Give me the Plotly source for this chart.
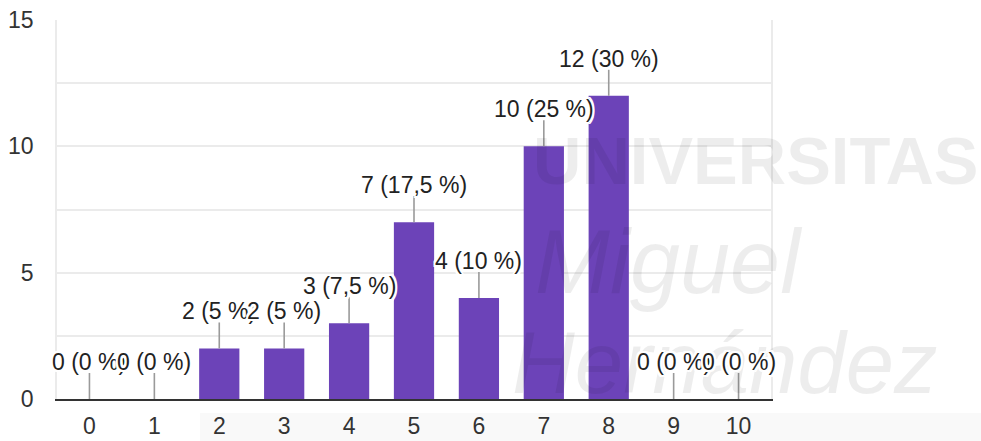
import plotly.graph_objects as go

# Responses per score (0-10)
categories = list(range(11))
counts = [0, 0, 2, 2, 3, 7, 4, 10, 12, 0, 0]
y_ticks = [0, 5, 10, 15]

total = sum(counts)


def fmt_pct(n):
    p = n / total * 100
    s = f"{p:.1f}".rstrip("0").rstrip(".")
    return s.replace(".", ",") + " %"


labels = [f"{c} ({fmt_pct(c)})" for c in counts]

BAR_COLOR = "#6c43b8"
TEXT_COLOR = "#222222"
FONT = "Liberation Sans, Arial, sans-serif"
HALO = ", ".join(
    f"{dx}px {dy}px 0 #ffffff"
    for dx, dy in [(2, 0), (-2, 0), (0, 2), (0, -2), (2, 2), (-2, -2), (2, -2), (-2, 2)]
)

fig = go.Figure()
fig.add_trace(
    go.Bar(
        x=categories,
        y=counts,
        marker=dict(color=BAR_COLOR, line=dict(width=0)),
        hoverinfo="skip",
    )
)

# faint university watermark behind the labels
watermark = [
    dict(text="<b>UNIVERSITAS</b>", px=531, py=160, size=67),
    dict(text="<i>Miguel</i>", px=533, py=262, size=90),
    dict(text="<i>Hernández</i>", px=510, py=362, size=87),
]
X0, X1, Y0, Y1 = 57, 771, 20, 399
annotations = []
for w in watermark:
    annotations.append(
        dict(
            text=w["text"],
            xref="paper",
            yref="paper",
            x=(w["px"] - X0) / (X1 - X0),
            y=(Y1 - w["py"]) / (Y1 - Y0),
            xanchor="left",
            yanchor="middle",
            showarrow=False,
            font=dict(family=FONT, size=w["size"], color="rgba(0,0,0,0.07)"),
        )
    )

# value labels with leader lines
shapes = []
for cat, val, lab in zip(categories, counts, labels):
    shapes.append(
        dict(
            type="line",
            xref="x",
            yref="y",
            ysizemode="pixel",
            yanchor=val,
            x0=cat,
            x1=cat,
            y0=0,
            y1=26,
            line=dict(color="#9a9a9a", width=1.6),
            layer="above",
        )
    )
    annotations.append(
        dict(
            text=lab,
            x=cat,
            y=val,
            xref="x",
            yref="y",
            yshift=37,
            showarrow=False,
            xanchor="center",
            yanchor="middle",
            font=dict(family=FONT, size=23, color=TEXT_COLOR, shadow=HALO),
        )
    )

# light band beneath the axis labels (part of the watermark)
shapes.append(
    dict(
        type="rect",
        xref="paper",
        yref="paper",
        x0=(200 - X0) / (X1 - X0),
        x1=(981 - X0) / (X1 - X0),
        y0=(Y1 - 441) / (Y1 - Y0),
        y1=(Y1 - 413) / (Y1 - Y0),
        fillcolor="rgba(0,0,0,0.025)",
        line=dict(width=0),
        layer="below",
    )
)

fig.update_layout(
    width=981,
    height=441,
    autosize=False,
    margin=dict(l=57, r=210, t=20, b=42, pad=0, autoexpand=False),
    paper_bgcolor="white",
    plot_bgcolor="white",
    bargap=0.38,
    showlegend=False,
    font=dict(family=FONT, size=23, color="#333333"),
    annotations=annotations,
    shapes=shapes,
    xaxis=dict(
        range=[-0.5, 10.5],
        tickmode="array",
        tickvals=categories,
        ticktext=[str(c) for c in categories],
        showgrid=False,
        zeroline=False,
        showline=True,
        linecolor="#333333",
        linewidth=2,
        ticks="",
        automargin=False,
        ticklabelstandoff=5,
        tickfont=dict(family=FONT, size=23, color="#333333"),
        fixedrange=True,
    ),
    yaxis=dict(
        range=[0, 15],
        tickmode="array",
        tickvals=y_ticks,
        showgrid=True,
        gridcolor="#ebebeb",
        gridwidth=1.5,
        minor=dict(dtick=2.5, tick0=0, showgrid=True, gridcolor="#ebebeb", gridwidth=1.5),
        zeroline=False,
        showline=True,
        mirror=True,
        linecolor="#ebebeb",
        linewidth=1.5,
        ticks="",
        automargin=False,
        ticklabelstandoff=17,
        tickfont=dict(family=FONT, size=23, color="#333333"),
        fixedrange=True,
    ),
)

fig.write_html("out.html")
